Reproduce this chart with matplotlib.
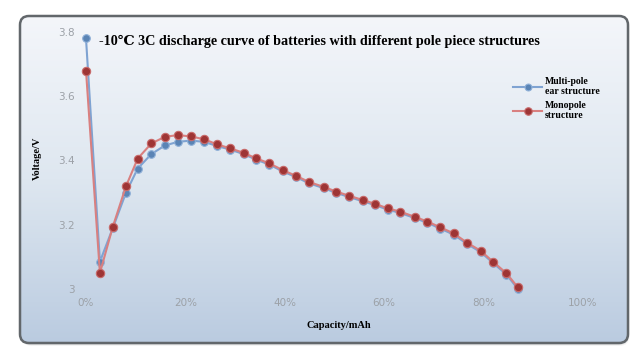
import numpy as np
from matplotlib import pyplot as plt
from matplotlib.patches import FancyBboxPatch

# capacity (%) and voltage (V)
capacity = [0, 2.8, 5.4, 8.05, 10.4, 13.15, 15.9, 18.5, 21.1, 23.8, 26.4, 29.0,
            31.7, 34.2, 36.9, 39.6, 42.3, 44.9, 47.8, 50.4, 53.0, 55.7, 58.2,
            60.7, 63.2, 66.1, 68.7, 71.3, 74.0, 76.7, 79.4, 81.9, 84.6, 86.9]
multi_pole = [3.78, 3.085, 3.19, 3.30, 3.375, 3.42, 3.447, 3.458, 3.462, 3.458,
              3.445, 3.434, 3.420, 3.403, 3.387, 3.366, 3.348, 3.329, 3.314,
              3.299, 3.286, 3.273, 3.261, 3.247, 3.237, 3.221, 3.206, 3.188,
              3.169, 3.140, 3.115, 3.081, 3.045, 3.000]
monopole = [3.68, 3.05, 3.194, 3.32, 3.406, 3.453, 3.474, 3.479, 3.475, 3.466,
            3.450, 3.438, 3.424, 3.407, 3.391, 3.370, 3.352, 3.333, 3.318,
            3.303, 3.290, 3.277, 3.265, 3.251, 3.241, 3.225, 3.210, 3.192,
            3.173, 3.144, 3.119, 3.085, 3.049, 3.005]
x_ticks = [0, 20, 40, 60, 80, 100]
x_tick_labels = ['0%', '20%', '40%', '60%', '80%', '100%']
y_ticks = [3, 3.2, 3.4, 3.6, 3.8]
y_tick_labels = ['3', '3.2', '3.4', '3.6', '3.8']

title = '-10\u2103 3C discharge curve of batteries with different pole piece structures'
serif = ['Liberation Serif', 'DejaVu Serif']

W, H = 641, 359
fig = plt.figure(figsize=(W / 100, H / 100), dpi=100)
fig.patch.set_facecolor('white')

# background panel in pixel coordinates
bg = fig.add_axes([0, 0, 1, 1], zorder=0)
bg.set_xlim(0, W)
bg.set_ylim(H, 0)
bg.axis('off')

# soft shadow
for i, a in enumerate([0.04, 0.06, 0.08]):
    off = 5 - i * 1.5
    sh = FancyBboxPatch((20 + off * 0.3, 16 + off * 0.6), 608, 327,
                        boxstyle='round,pad=0,rounding_size=10',
                        fc='black', ec='none', alpha=a)
    bg.add_patch(sh)

frame = FancyBboxPatch((20, 16), 608, 327, boxstyle='round,pad=0,rounding_size=9',
                       fc='none', ec='#62676b', lw=1.8, zorder=3)
bg.add_patch(frame)

grad = np.linspace(0, 1, 256)[:, None]
top = np.array([244, 246, 250]) / 255
mid = np.array([222, 231, 240]) / 255
bot = np.array([186, 203, 224]) / 255
cols = np.where(grad[..., None] < 0.5,
                top + (mid - top) * (grad[..., None] / 0.5),
                mid + (bot - mid) * ((grad[..., None] - 0.5) / 0.5))
img = bg.imshow(cols, extent=(20, 628, 343, 16), aspect='auto', zorder=2)
clip = FancyBboxPatch((20, 16), 608, 327, boxstyle='round,pad=0,rounding_size=9',
                      fc='none', ec='none', transform=bg.transData)
img.set_clip_path(clip)

# data axes, placed so 0%..100% -> x 86..583 px and 3.0..3.8 V -> y 289..32 px
xlo, xhi = -1.5, 102
ylo, yhi = 2.99, 3.84
px_x = lambda v: 86 + v * 4.97
px_y = lambda v: 289 - (v - 3) * 321.25
left = px_x(xlo) / W
right = px_x(xhi) / W
bottom = 1 - px_y(ylo) / H
topf = 1 - px_y(yhi) / H
ax = fig.add_axes([left, bottom, right - left, topf - bottom], zorder=5)
ax.patch.set_alpha(0)
for s in ax.spines.values():
    s.set_visible(False)
ax.set_xlim(xlo, xhi)
ax.set_ylim(ylo, yhi)

ax.plot(capacity, multi_pole, '-o', color='#7fa3d2', lw=1.5, ms=5.5,
        mfc='#5a84b5', mec='#8fb0d8', mew=0.8, clip_on=False, zorder=3,
        label='Multi-pole\near structure')
ax.plot(capacity, monopole, '-o', color='#d98080', lw=1.5, ms=6,
        mfc='#9e3535', mec='#c86a6a', mew=0.8, clip_on=False, zorder=4,
        label='Monopole\nstructure')

ax.set_xticks(x_ticks)
ax.set_xticklabels(x_tick_labels)
ax.set_yticks(y_ticks)
ax.set_yticklabels(y_tick_labels)
ax.tick_params(length=0, labelsize=7.5, labelcolor='#9ca1a7')
ax.tick_params(axis='x', pad=4)
ax.tick_params(axis='y', pad=3)

fig.text(99 / W, 1 - 41 / H, title, ha='left', va='center', fontsize=10.2,
         fontweight='bold', family=serif, color='black', zorder=10)
fig.text(339 / W, 1 - 326 / H, 'Capacity/mAh', ha='center', va='center',
         fontsize=7.5, fontweight='bold', family=serif, zorder=10)
fig.text(37 / W, 1 - 158 / H, 'Voltage/V', ha='center', va='center',
         rotation=90, fontsize=7.5, fontweight='bold', family=serif, zorder=10)

leg = fig.legend(loc='upper left', bbox_to_anchor=(513 / W, 1 - 77 / H),
                 frameon=False, prop={'family': serif, 'weight': 'bold', 'size': 7},
                 handlelength=3.0, handletextpad=0.3, labelspacing=0.45,
                 borderpad=0, borderaxespad=0, markerscale=0.9)

fig.savefig('out.png', dpi=100, facecolor='white')
